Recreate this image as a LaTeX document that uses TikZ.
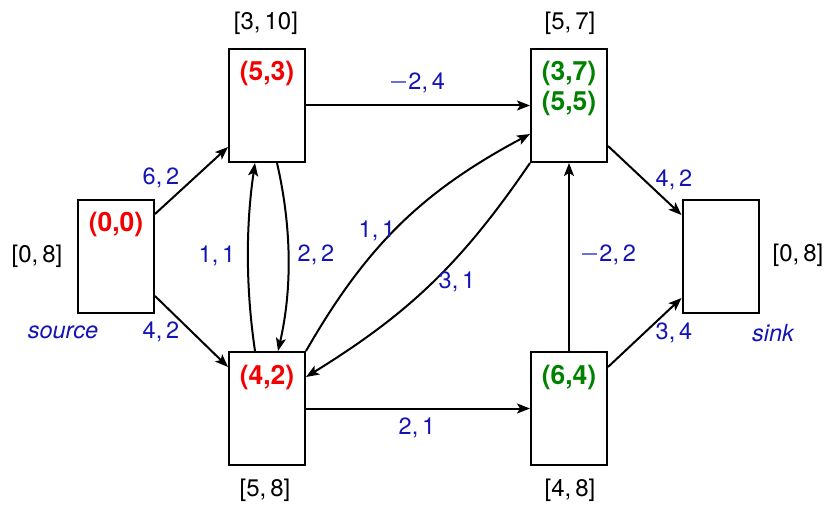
\documentclass[tikz,border=0pt]{standalone}
\usepackage{fontspec}
\setmainfont{TeX Gyre Heros}
\usetikzlibrary{arrows.meta,calc}
\definecolor{lblue}{RGB}{20,20,180}
\definecolor{mblue}{RGB}{110,110,215}
\definecolor{vred}{RGB}{245,0,0}
\definecolor{vgreen}{RGB}{0,130,0}
\newcommand{\negsign}{\textcolor{mblue}{\rule[6.8pt]{15pt}{1.4pt}}\kern2.5pt}
\begin{document}
\begin{tikzpicture}[x=1pt,y=1pt,
  box/.style={draw,line width=2pt,minimum width=76pt,minimum height=113pt,inner sep=0pt},
  arr/.style={line width=2pt,-{Stealth[length=13pt,width=10pt,inset=3pt]}},
  lab/.style={text=lblue,font=\fontsize{23.5}{28}\selectfont,inner sep=0pt},
  rng/.style={text=black,font=\fontsize{24}{28}\selectfont,inner sep=0pt},
  redv/.style={text=vred,font=\bfseries\fontsize{26.5}{30}\selectfont,inner sep=0pt},
  grnv/.style={text=vgreen,font=\bfseries\fontsize{26.5}{30}\selectfont,inner sep=0pt},
  tag/.style={text=lblue,font=\itshape\fontsize{23.5}{28}\selectfont,inner sep=0pt,anchor=base}]
\useasboundingbox (0,0) rectangle (826,504);
% boxes
\node[box] (src) at (116,247.5) {};
\node[box] (A) at (267,398.5) {};
\node[box] (B) at (267,95.5) {};
\node[box] (C) at (569,398.5) {};
\node[box] (D) at (569,95.5) {};
\node[box] (snk) at (720.5,247.5) {};
% values inside
\node[redv] (v0) at (116,280) {(0,0)};
\node[redv] (v1) at (267,431) {(5,3)};
\node[grnv] (v2) at (569,431) {(3,7)};
\node[grnv] (v3) at (569,401) {(5,5)};
\node[redv] (v4) at (267,127) {(4,2)};
\node[grnv] (v5) at (569,127) {(6,4)};
% ranges
\node[rng] (r0) at (37,248) {[0,\,8]};
\node[rng] (r1) at (266,481) {[3,\,10]};
\node[rng] (r2) at (570,481) {[5,\,7]};
\node[rng] (r3) at (265,14) {[5,\,8]};
\node[rng] (r4) at (570,14) {[4,\,8]};
\node[rng] (r5) at (798,249) {[0,\,8]};
% tags
\node[tag] (t0) at (63,166) {source};
\node[tag] (t1) at (773,163) {sink};
% edges
\draw[arr] ($(src.north east)+(0,-15)$) -- ($(A.south west)+(0,16)$);
\draw[arr] ($(src.south east)+(0,18)$) -- ($(B.north west)+(0,-16)$);
\draw[arr] (A.east) -- (C.west);
\draw[arr] (B.east) -- (D.west);
\draw[arr] (D.north) -- (C.south);
\draw[arr] ($(C.south east)+(0,17)$) -- ($(snk.north west)+(0,-16)$);
\draw[arr] ($(D.north east)+(0,-16)$) -- ($(snk.south west)+(0,16)$);
\draw[arr] ($(B.north)+(-12,0)$) .. controls +(-9.3,63) and +(-9.3,-63) .. ($(A.south)+(-12,0)$);
\draw[arr] ($(A.south)+(10,0)$) .. controls +(14.5,-63) and +(14.5,63) .. ($(B.north)+(11,0)$);
\draw[arr] (B.north east) to[bend left=16] ($(C.south west)+(0,29)$);
\draw[arr] (C.south west) to[bend left=12] ($(B.north east)+(0,-26)$);
% edge labels
\node[lab] (e1) at (161,326) {6,\,2};
\node[lab] (e2) at (161,172) {4,\,2};
\node[lab] (e3) at (217,248) {1,\,1};
\node[lab] (e4) at (316,249) {2,\,2};
\node[lab] (e5) at (418,421) {\negsign 2,\,4};
\node[lab] (e6) at (417,76) {2,\,1};
\node[lab] (e7) at (377,273) {1,\,1};
\node[lab] (e8) at (457,222) {3,\,1};
\node[lab] (e9) at (609,249) {\negsign 2,\,2};
\node[lab] (e10) at (674,324) {4,\,2};
\node[lab] (e11) at (674,171) {3,\,4};
\end{tikzpicture}
\end{document}
